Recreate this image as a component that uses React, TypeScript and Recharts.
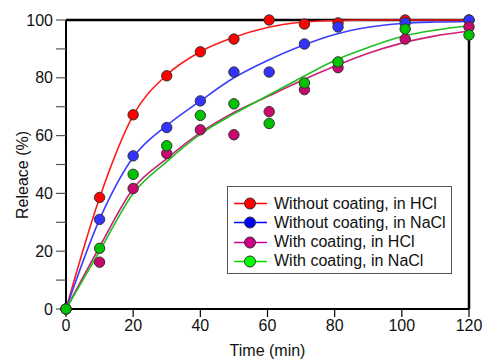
import React from 'react'
import {
  ComposedChart,
  Line,
  Scatter,
  XAxis,
  YAxis,
  ReferenceLine,
  Legend,
} from 'recharts'

// measured time points (min)
const times = [0, 10, 20, 30, 40, 50, 60.5, 71, 81, 101, 120]

// measured release (%)
const hclBare = [0, 38.6, 67.2, 80.7, 89, 93.4, 100, 98.6, 99, 100, 100]
const naclBare = [0, 31, 53, 62.8, 72, 82, 82, 91.7, 97.6, 99, 100]
const hclCoated = [0, 16.2, 41.7, 53.8, 62, 60.3, 68.3, 75.9, 83.5, 93.4, 97.6]
const naclCoated = [0, 21, 46.6, 56.5, 67, 71, 64.2, 78.2, 85.5, 96.9, 94.8]

// fitted curves
const fitTimes = [0, 10, 20, 30, 40, 50, 60, 70, 80, 90, 100, 110, 120]
const hclBareFit = [0, 38.5, 67, 81, 89, 94, 97.4, 99.2, 99.8, 100, 100, 100, 100]
const naclBareFit = [0, 31, 52.5, 63.5, 72, 80, 86, 91, 95, 97.5, 98.8, 99.3, 99.5]
const hclCoatedFit = [0, 21.5, 41.6, 52, 61, 68, 73.5, 79, 84, 88.5, 92, 94.5, 96.2]
const naclCoatedFit = [0, 20, 40, 51, 60.5, 67.5, 73.8, 80, 86, 90.5, 94.3, 96.5, 98]

const xTicks = [0, 20, 40, 60, 80, 100, 120]
const yTicks = [0, 10, 20, 30, 40, 50, 60, 70, 80, 90, 100]

const series = [
  { name: 'Without coating, in HCl', pts: hclBare, fit: hclBareFit, dot: '#ff0000', line: '#ff1a1a', key: '#ff0000', keyLine: '#ff0000' },
  { name: 'Without coating, in NaCl', pts: naclBare, fit: naclBareFit, dot: '#3333ff', line: '#3c3cff', key: '#0000ff', keyLine: '#0000ff' },
  { name: 'With coating, in HCl', pts: hclCoated, fit: hclCoatedFit, dot: '#c8086c', line: '#cc1f78', key: '#cc0088', keyLine: '#cc0099' },
  { name: 'With coating, in NaCl', pts: naclCoated, fit: naclCoatedFit, dot: '#00c400', line: '#1fbf1f', key: '#00ff00', keyLine: '#00e000' },
]

const font = '"Liberation Sans", Arial, sans-serif'

const Dot = (color: string) => (props: any) => (
  <circle cx={props.cx} cy={props.cy} r={5.2} fill={color} stroke="#333" strokeWidth={1} />
)

const LegendBox = () => (
  <div
    style={{
      position: 'absolute',
      left: 227,
      top: 186,
      width: 223,
      height: 86,
      border: '1px solid #555',
      background: '#fff',
      fontFamily: font,
      fontSize: 16,
      color: '#111',
    }}
  >
    {series.map((s, i) => (
      <div key={s.name} style={{ position: 'absolute', left: 5, top: 7 + i * 19.3, height: 19, display: 'flex', alignItems: 'center' }}>
        <svg width={36} height={19}>
          <line x1={1} x2={34} y1={9.5} y2={9.5} stroke={s.keyLine} strokeWidth={1.5} />
          <circle cx={17} cy={9.5} r={5.5} fill={s.key} stroke="#333" strokeWidth={1} />
        </svg>
        <span style={{ marginLeft: 5, whiteSpace: 'nowrap' }}>{s.name}</span>
      </div>
    ))}
  </div>
)

export default function App() {
  return (
    <div style={{ position: 'absolute', left: 0, top: 0, width: 484, height: 360, background: '#fff' }}>
      <ComposedChart
        width={484}
        height={360}
        margin={{ top: 20, right: 15, left: 0, bottom: 0 }}
        style={{ fontFamily: font }}
      >
        <XAxis
          dataKey="t"
          type="number"
          domain={[0, 120]}
          ticks={xTicks}
          height={51}
          tickSize={8}
          tickMargin={3}
          axisLine={{ stroke: '#000', strokeWidth: 2 }}
          tickLine={{ stroke: '#000', strokeWidth: 1.2 }}
          tick={{ fill: '#111', fontSize: 16 }}
          label={{ value: 'Time (min)', position: 'insideBottom', offset: 4, fill: '#111', fontSize: 16 }}
        />
        <YAxis
          type="number"
          domain={[0, 100]}
          ticks={yTicks}
          width={66}
          tickSize={10}
          tickMargin={3}
          interval={0}
          tickFormatter={(v: number) => (v % 20 === 0 ? String(v) : '')}
          axisLine={{ stroke: '#000', strokeWidth: 2 }}
          tickLine={{ stroke: '#555', strokeWidth: 1.2 }}
          tick={{ fill: '#111', fontSize: 16 }}
          label={{
            content: () => (
              <text x={22} y={175} transform="rotate(-90 22 175)" textAnchor="middle" dominantBaseline="central" fill="#111" fontSize={16}>
                Releace (%)
              </text>
            ),
          }}
        />
        <ReferenceLine y={100} stroke="#000" strokeWidth={2.5} />
        <ReferenceLine x={120} stroke="#000" strokeWidth={2.5} />
        {series.map((s) => (
          <Line
            key={s.name + '-fit'}
            data={fitTimes.map((t, i) => ({ t, v: s.fit[i] }))}
            dataKey="v"
            type="monotone"
            stroke={s.line}
            strokeWidth={1.6}
            dot={false}
            activeDot={false}
            legendType="none"
            isAnimationActive={false}
          />
        ))}
        {series.map((s) => (
          <Scatter
            key={s.name}
            name={s.name}
            data={times.map((t, i) => ({ t, v: s.pts[i] }))}
            dataKey="v"
            shape={Dot(s.dot)}
            isAnimationActive={false}
          />
        ))}
        <Legend content={() => null} />
      </ComposedChart>
      <LegendBox />
    </div>
  )
}
